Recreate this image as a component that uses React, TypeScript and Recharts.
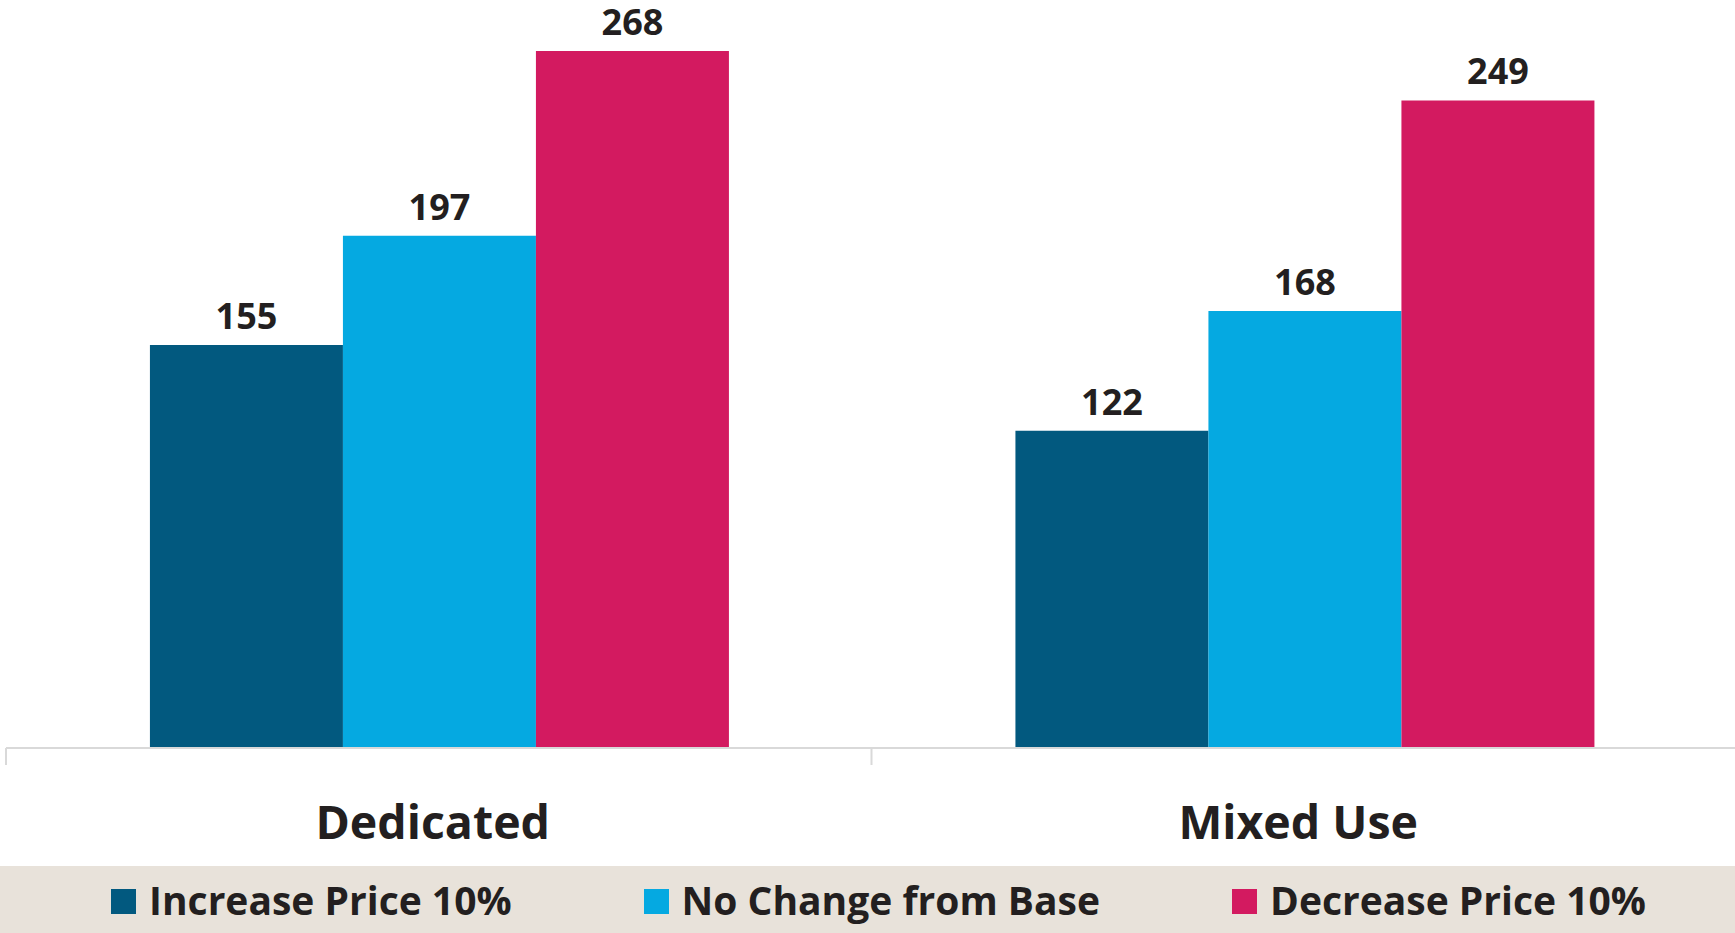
import React from 'react';
import { BarChart, Bar, XAxis, YAxis, Legend, LabelList } from 'recharts';

const categories = ['Dedicated', 'Mixed Use'];
const increasePrice = [155, 122];
const noChange = [197, 168];
const decreasePrice = [268, 249];

const seriesNames = ['Increase Price 10%', 'No Change from Base', 'Decrease Price 10%'];
const seriesColors = ['#02597F', '#05A9E1', '#D31A60'];

const data = categories.map((name, i) => ({
  name,
  increase: increasePrice[i],
  noChange: noChange[i],
  decrease: decreasePrice[i],
}));

const W = 1735;
const H = 933;
const MARGIN = { top: 51, right: -2, bottom: 0, left: 6 };
const FONT = '"Open Sans", "Noto Sans", sans-serif';
const TEXT = '#231F20';

// category label plus a boundary tick at the left edge of each band
const CategoryTick = (props: any) => {
  const { x, y, payload } = props;
  const band = (W - MARGIN.left - MARGIN.right) / categories.length;
  const left = x - band / 2;
  return (
    <g>
      <line x1={left} y1={y} x2={left} y2={y + 17} stroke="#d9d9d9" strokeWidth={2} />
      <text
        x={x - 6}
        y={y + 91}
        textAnchor="middle"
        fill={TEXT}
        fontFamily={FONT}
        fontWeight={700}
        fontSize={46.5}
      >
        {payload.value}
      </text>
    </g>
  );
};

const LegendBox = () => (
  <div
    style={{
      width: W,
      height: 67,
      boxSizing: 'border-box',
      paddingLeft: 22,
      background: '#E8E2DA',
      display: 'flex',
      justifyContent: 'center',
      alignItems: 'center',
      gap: 132,
      fontFamily: FONT,
      fontWeight: 700,
      fontSize: 39,
      color: TEXT,
    }}
  >
    {seriesNames.map((n, i) => (
      <div key={n} style={{ display: 'flex', alignItems: 'center', gap: 13 }}>
        <span style={{ width: 25, height: 25, background: seriesColors[i], display: 'inline-block', marginTop: 4 }} />
        <span style={{ lineHeight: 1 }}>{n}</span>
      </div>
    ))}
  </div>
);

const labelStyle = { fontFamily: FONT, fontWeight: 700, fontSize: 36, fill: TEXT };

export default function App() {
  return (
    <div style={{ position: 'absolute', left: 0, top: 0, width: W, height: H, background: '#fff', overflow: 'hidden' }}>
      <BarChart
        width={W}
        height={H}
        data={data}
        margin={MARGIN}
        barCategoryGap="16.63%"
        barGap={0}
      >
        <XAxis
          dataKey="name"
          height={118}
          axisLine={{ stroke: '#d9d9d9', strokeWidth: 2 }}
          tickLine={false}
          tickSize={0}
          tickMargin={0}
          interval={0}
          tick={<CategoryTick />}
        />
        <YAxis hide domain={[0, 'dataMax']} />
        <Legend
          verticalAlign="bottom"
          content={<LegendBox />}
          wrapperStyle={{ left: 0, bottom: 0, width: W, height: 67 }}
        />
        <Bar dataKey="increase" name={seriesNames[0]} fill={seriesColors[0]} isAnimationActive={false}>
          <LabelList dataKey="increase" position="top" offset={16} style={labelStyle} />
        </Bar>
        <Bar dataKey="noChange" name={seriesNames[1]} fill={seriesColors[1]} isAnimationActive={false}>
          <LabelList dataKey="noChange" position="top" offset={16} style={labelStyle} />
        </Bar>
        <Bar dataKey="decrease" name={seriesNames[2]} fill={seriesColors[2]} isAnimationActive={false}>
          <LabelList dataKey="decrease" position="top" offset={16} style={labelStyle} />
        </Bar>
      </BarChart>
    </div>
  );
}
